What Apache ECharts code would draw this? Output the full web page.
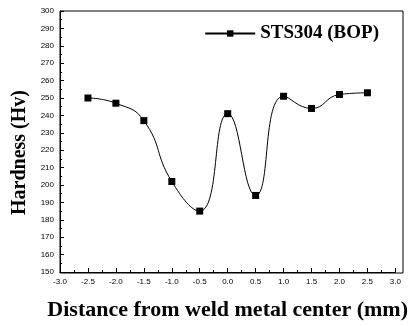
<!DOCTYPE html>
<html><head><meta charset="utf-8">
<script src="https://cdn.jsdelivr.net/npm/echarts@6/dist/echarts.min.js"></script>
<style>html,body{margin:0;padding:0;background:#fff}#c{width:411px;height:326px}</style>
</head><body><div id="c"></div>
<script>
const xValues = [-2.5, -2.0, -1.5, -1.0, -0.5, 0.0, 0.5, 1.0, 1.5, 2.0, 2.5];
const hardness = [250, 247, 237, 202, 185, 241, 194, 251, 244, 252, 253];
const seriesName = 'STS304 (BOP)';
const chart = echarts.init(document.getElementById('c'));
chart.setOption({
  animation: false,
  grid: {left: 60, right: 8, top: 11, bottom: 53},
  legend: {
    data: [seriesName], right: 27, top: 19, itemWidth: 50, itemHeight: 8, itemGap: 4,
    textStyle: {fontFamily: 'Liberation Serif', fontWeight: 'bold', fontSize: 19, color: '#000'}
  },
  xAxis: {
    type: 'value', min: -3, max: 3, interval: 0.5,
    name: 'Distance from weld metal center (mm)', nameLocation: 'middle', nameGap: 27,
    nameTextStyle: {fontFamily: 'Liberation Serif', fontWeight: 'bold', fontSize: 22, color: '#000'},
    axisLine: {onZero: false, lineStyle: {color: '#000', width: 1}},
    axisTick: {inside: true, length: 4, lineStyle: {color: '#000'}},
    minorTick: {show: true, splitNumber: 2, length: 2, lineStyle: {color: '#000'}},
    axisLabel: {fontFamily: 'Liberation Sans', fontSize: 8, color: '#000', margin: 6,
      formatter: v => v.toFixed(1)},
    splitLine: {show: false}
  },
  yAxis: {
    type: 'value', min: 150, max: 300, interval: 10,
    name: 'Hardness (Hv)', nameLocation: 'middle', nameGap: 30,
    nameTextStyle: {fontFamily: 'Liberation Serif', fontWeight: 'bold', fontSize: 20, color: '#000',
      padding: [0, 22, 0, 0]},
    axisLine: {onZero: false, lineStyle: {color: '#000', width: 1}},
    axisTick: {inside: true, length: 4, lineStyle: {color: '#000'}},
    minorTick: {show: true, splitNumber: 2, length: 2, lineStyle: {color: '#000'}},
    axisLabel: {fontFamily: 'Liberation Sans', fontSize: 8, color: '#000', margin: 6},
    splitLine: {show: false}
  },
  series: [{
    name: seriesName, type: 'line', smooth: 0.5,
    data: xValues.map((x, i) => [x, hardness[i]]),
    symbol: 'rect', symbolSize: 7,
    lineStyle: {color: '#000', width: 1},
    itemStyle: {color: '#000'}
  }],
  graphic: [{
    type: 'rect', shape: {x: 60, y: 11, width: 343, height: 262},
    style: {fill: 'none', stroke: '#000', lineWidth: 1}, silent: true
  }]
});
</script></body></html>
